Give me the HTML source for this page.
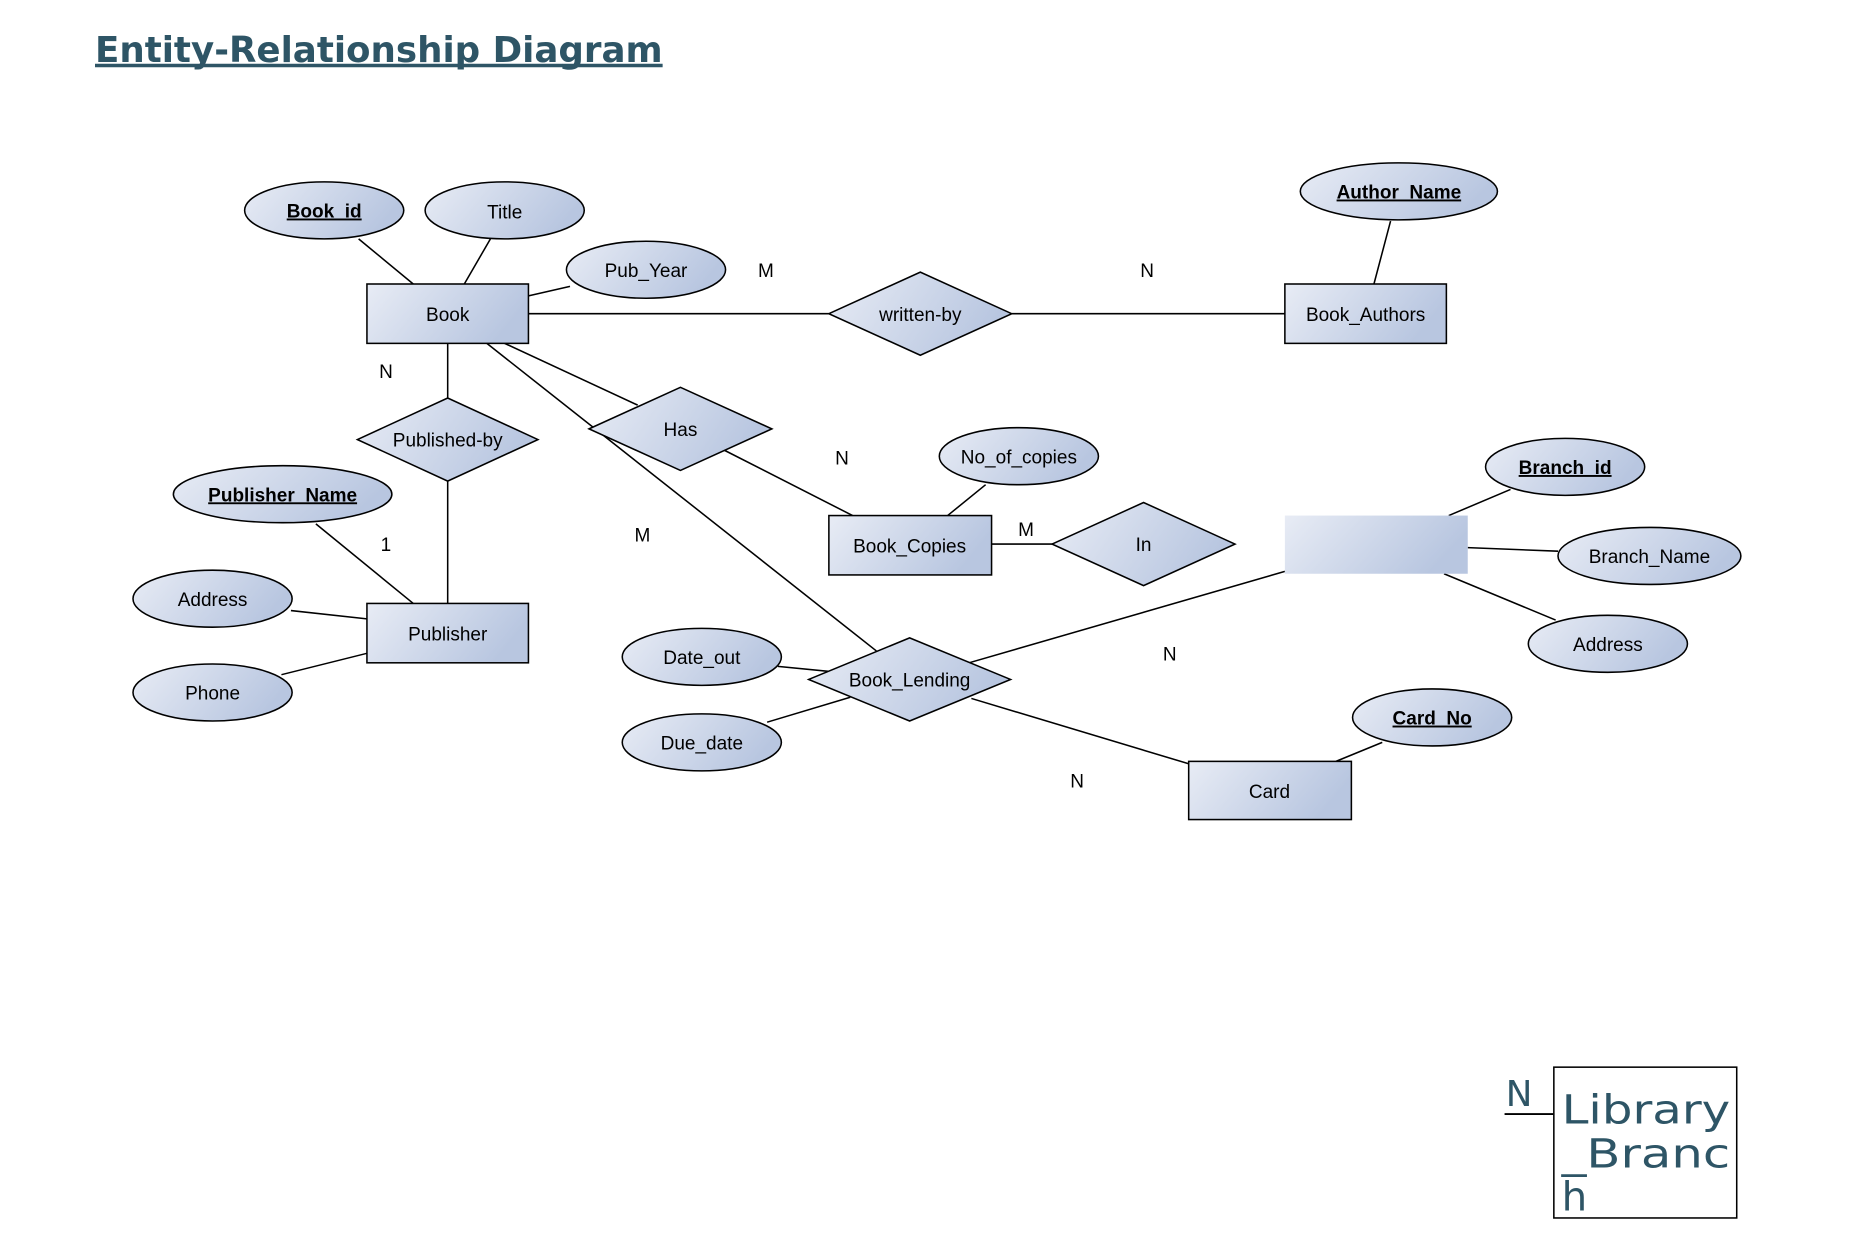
<!DOCTYPE html>
<html><head><meta charset="utf-8"><style>
html,body{margin:0;padding:0;background:#fff;}
svg{display:block;}
text{font-family:"Liberation Sans",sans-serif;font-size:16px;fill:#000;}
.b{font-weight:bold;text-decoration:underline;}
</style></head><body>
<svg width="1862" height="1252" viewBox="0 0 1568 1054" xmlns="http://www.w3.org/2000/svg">
<defs>
<linearGradient id="g" x1="0" y1="0" x2="1" y2="0.3">
<stop offset="0" stop-color="#e8ecf5"/><stop offset="1" stop-color="#b8c6e0"/>
</linearGradient>
</defs>
<text x="80" y="52" style="font-family:'DejaVu Sans',sans-serif;font-size:30px;font-weight:bold;fill:#2e5566" textLength="478" lengthAdjust="spacingAndGlyphs">Entity-Relationship Diagram</text>
<line x1="80" y1="55" x2="558" y2="55" stroke="#2e5566" stroke-width="3"/>

<g stroke="#000" stroke-width="1.3" fill="none">
<line x1="302" y1="201" x2="348" y2="239"/>
<line x1="413" y1="201" x2="391" y2="239"/>
<line x1="480" y1="241" x2="445" y2="249"/>
<line x1="445" y1="264" x2="698" y2="264"/>
<line x1="852" y1="264" x2="1082" y2="264"/>
<line x1="1171" y1="186" x2="1157" y2="239"/>
<line x1="377" y1="289" x2="377" y2="336"/>
<line x1="377" y1="405" x2="377" y2="508"/>
<line x1="266" y1="441" x2="348" y2="508"/>
<line x1="245" y1="514" x2="309" y2="521"/>
<line x1="237" y1="568" x2="309" y2="550"/>
<line x1="425" y1="289" x2="537" y2="341"/>
<line x1="610" y1="379" x2="718" y2="434"/>
<line x1="830" y1="408" x2="798" y2="434"/>
<line x1="835" y1="458" x2="887" y2="458"/>
<line x1="1272" y1="412" x2="1220" y2="434"/>
<line x1="1236" y1="461" x2="1312" y2="464"/>
<line x1="1216" y1="483" x2="1310" y2="522"/>
<line x1="410" y1="289" x2="738" y2="548"/>
<line x1="816" y1="558" x2="1082" y2="481"/>
<line x1="655" y1="561" x2="706" y2="566"/>
<line x1="646" y1="608" x2="716" y2="587"/>
<line x1="818" y1="588" x2="1001" y2="643"/>
<line x1="1164" y1="625" x2="1125" y2="641"/>
</g>

<g fill="url(#g)" stroke="#000" stroke-width="1.3">
<rect x="309" y="239" width="136" height="50"/>
<rect x="1082" y="239" width="136" height="50"/>
<rect x="309" y="508" width="136" height="50"/>
<rect x="698" y="434" width="137" height="50"/>
<rect x="1001" y="641" width="137" height="49"/>
<rect x="1082" y="434" width="154" height="49" stroke="none"/>
<ellipse cx="273" cy="177" rx="67" ry="24"/>
<ellipse cx="425" cy="177" rx="67" ry="24"/>
<ellipse cx="544" cy="227" rx="67" ry="24"/>
<ellipse cx="1178" cy="161" rx="83" ry="24"/>
<ellipse cx="238" cy="416" rx="92" ry="24"/>
<ellipse cx="179" cy="504" rx="67" ry="24"/>
<ellipse cx="179" cy="583" rx="67" ry="24"/>
<ellipse cx="858" cy="384" rx="67" ry="24"/>
<ellipse cx="1318" cy="393" rx="67" ry="24"/>
<ellipse cx="1389" cy="468" rx="77" ry="24"/>
<ellipse cx="1354" cy="542" rx="67" ry="24"/>
<ellipse cx="591" cy="553" rx="67" ry="24"/>
<ellipse cx="591" cy="625" rx="67" ry="24"/>
<ellipse cx="1206" cy="604" rx="67" ry="24"/>
<polygon points="698,264 775,229 852,264 775,299"/>
<polygon points="301,370 377,335 453,370 377,405"/>
<polygon points="496,361 573,326 650,361 573,396"/>
<polygon points="886,458 963,423 1040,458 963,493"/>
<polygon points="681,572 766,537 851,572 766,607"/>
</g>

<g text-anchor="middle">
<text x="377" y="270">Book</text>
<text x="1150" y="270">Book_Authors</text>
<text x="377" y="539">Publisher</text>
<text x="766" y="465">Book_Copies</text>
<text x="1069" y="672">Card</text>
<text class="b" x="273" y="183">Book_id</text>
<text x="425" y="184">Title</text>
<text x="544" y="233">Pub_Year</text>
<text class="b" x="1178" y="167">Author_Name</text>
<text class="b" x="238" y="422">Publisher_Name</text>
<text x="179" y="510">Address</text>
<text x="179" y="589">Phone</text>
<text x="858" y="390">No_of_copies</text>
<text class="b" x="1318" y="399">Branch_id</text>
<text x="1389" y="474">Branch_Name</text>
<text x="1354" y="548">Address</text>
<text x="591" y="559">Date_out</text>
<text x="591" y="631">Due_date</text>
<text class="b" x="1206" y="610">Card_No</text>
<text x="775" y="270">written-by</text>
<text x="377" y="376">Published-by</text>
<text x="573" y="367">Has</text>
<text x="963" y="464">In</text>
<text x="766" y="578">Book_Lending</text>
<text x="645" y="233">M</text>
<text x="966" y="233">N</text>
<text x="325" y="318">N</text>
<text x="325" y="464">1</text>
<text x="709" y="391">N</text>
<text x="864" y="451">M</text>
<text x="541" y="456">M</text>
<text x="985" y="556">N</text>
<text x="907" y="663">N</text>
</g>

<rect x="1308.5" y="898.5" width="154" height="127" fill="#fff" stroke="#000" stroke-width="1.3"/>
<text x="1315" y="946" style="font-family:'DejaVu Sans',sans-serif;font-size:34px;fill:#2e5566" textLength="142" lengthAdjust="spacingAndGlyphs">Library</text>
<text x="1315" y="983" style="font-family:'DejaVu Sans',sans-serif;font-size:34px;fill:#2e5566" textLength="142" lengthAdjust="spacingAndGlyphs">_Branc</text>
<text x="1315" y="1019" style="font-family:'DejaVu Sans',sans-serif;font-size:34px;fill:#2e5566">h</text>
<text x="1268" y="931" style="font-family:'DejaVu Sans',sans-serif;font-size:30px;fill:#2e5566">N</text>
<line x1="1267" y1="938" x2="1308" y2="938" stroke="#000" stroke-width="1.5"/>
</svg>
</body></html>
